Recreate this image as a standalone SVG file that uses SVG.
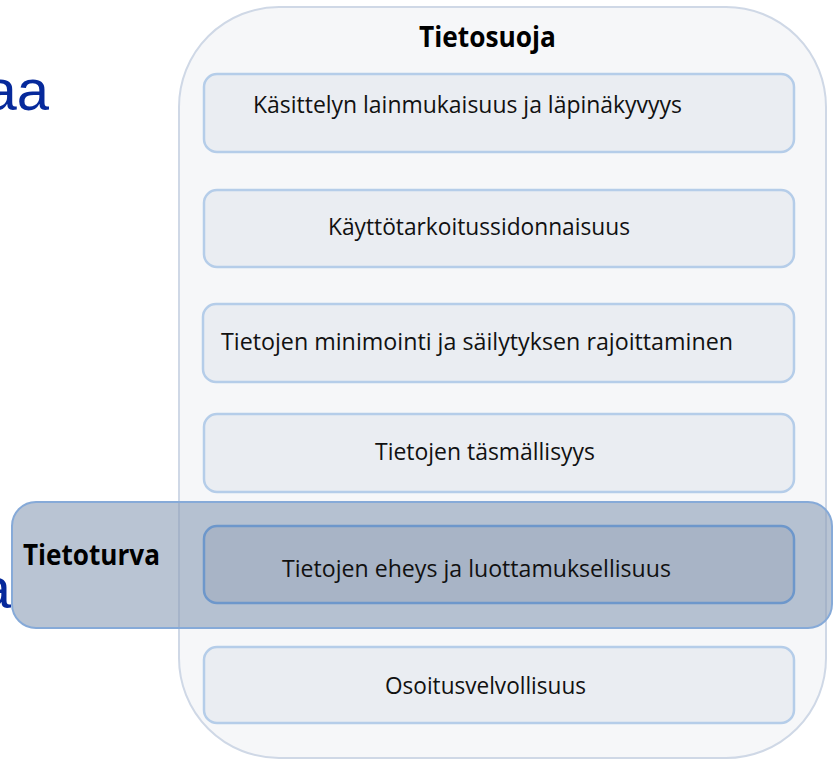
<svg xmlns="http://www.w3.org/2000/svg" width="833" height="763" viewBox="0 0 833 763">
<style>
.bg{fill:#ffffff}
.outer{fill:#f6f7f9;stroke:#cfd8e6;stroke-width:2}
.box{fill:#eaedf2;stroke:#b5cde9;stroke-width:2.5}
.band{fill:#8a9cb6;fill-opacity:0.6;stroke:#86aad8;stroke-width:2}
.boxsel{fill:#a8b4c6;stroke:#6d97cb;stroke-width:2.5}
.t{font-family:"Open Sans","Noto Sans",sans-serif;font-size:23px;fill:#111111}
.h{font-family:"Open Sans","Noto Sans",sans-serif;font-size:28px;font-weight:bold;fill:#000000}
.blue{font-family:"Liberation Sans",Arial,sans-serif;font-size:58px;fill:#06299b}
</style>
<rect class="bg" x="0" y="0" width="833" height="763"/>
<text class="blue" x="49" y="110" text-anchor="end">aa</text>
<text class="blue" x="11" y="608" text-anchor="end">a</text>
<g id="tietosuoja">
<rect class="outer" x="179" y="7" width="647" height="751" rx="100" ry="100"/>
<text class="h" x="419" y="47" textLength="137" lengthAdjust="spacingAndGlyphs">Tietosuoja</text>
</g>
<g id="n1">
<rect class="box" x="204" y="74" width="590" height="78" rx="13"/>
<text class="t" x="253" y="113" textLength="429" lengthAdjust="spacingAndGlyphs">Käsittelyn lainmukaisuus ja läpinäkyvyys</text>
</g>
<g id="n2">
<rect class="box" x="204" y="190" width="590" height="77" rx="13"/>
<text class="t" x="328" y="235" textLength="302" lengthAdjust="spacingAndGlyphs">Käyttötarkoitussidonnaisuus</text>
</g>
<g id="n3">
<rect class="box" x="203" y="304" width="591" height="78" rx="13"/>
<text class="t" x="221" y="350" textLength="512" lengthAdjust="spacingAndGlyphs">Tietojen minimointi ja säilytyksen rajoittaminen</text>
</g>
<g id="n4">
<rect class="box" x="204" y="414" width="590" height="78" rx="13"/>
<text class="t" x="375" y="460" textLength="220" lengthAdjust="spacingAndGlyphs">Tietojen täsmällisyys</text>
</g>
<g id="tietoturva">
<rect class="band" x="12" y="502" width="820" height="126" rx="24"/>
<text class="h" x="23" y="565" textLength="137" lengthAdjust="spacingAndGlyphs">Tietoturva</text>
</g>
<g id="n5">
<rect class="boxsel" x="204" y="526" width="590" height="77" rx="13"/>
<text class="t" x="282" y="577" textLength="389" lengthAdjust="spacingAndGlyphs">Tietojen eheys ja luottamuksellisuus</text>
</g>
<g id="n6">
<rect class="box" x="204" y="647" width="590" height="76" rx="13"/>
<text class="t" x="385" y="694" textLength="201" lengthAdjust="spacingAndGlyphs">Osoitusvelvollisuus</text>
</g>
<g id="connectors"></g>
</svg>
